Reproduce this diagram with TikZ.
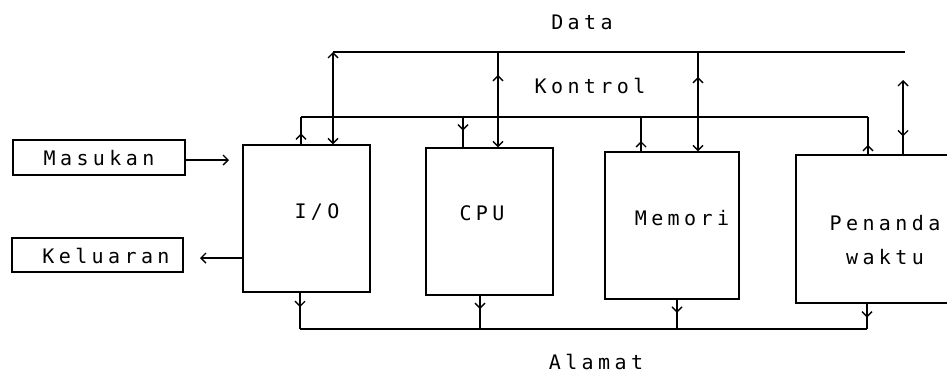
\documentclass[tikz,border=0pt]{standalone}
\usepackage{fontspec}
\setmainfont{DejaVu Sans Mono}[LetterSpace=22]
\usetikzlibrary{arrows.meta,decorations.markings}
\begin{document}
\begin{tikzpicture}[x=1pt,y=-1pt,
  ln/.style={line width=1.4pt},
  boxn/.style={draw, ln, inner sep=0pt},
  lbl/.style={font=\fontsize{20}{24}\selectfont, inner sep=0pt},
  >={Straight Barb[length=5pt,width=10pt]},
  midarrow/.style={postaction={decorate}, decoration={markings, mark=at position #1 with {\arrow{>}}}},
]
\useasboundingbox (0,0) rectangle (947,373);
\clip (0,0) rectangle (947,373);

% boxes
\node[boxn, minimum width=172pt, minimum height=35pt] (mas) at (99,157.5) {};
\node[boxn, minimum width=171pt, minimum height=34pt] (kel) at (97.5,255) {};
\node[boxn, minimum width=127pt, minimum height=147pt] (io) at (306.5,218.5) {};
\node[boxn, minimum width=127pt, minimum height=147pt] (cpu) at (489.5,221.5) {};
\node[boxn, minimum width=134pt, minimum height=147pt] (mem) at (672,225.5) {};
\node[boxn, minimum width=164pt, minimum height=148pt] (pen) at (878,229) {};

% labels
\node[lbl] (tmas) at (99,158) {Masukan};
\node[lbl] (tkel) at (106,256) {Keluaran};
\node[lbl] (tio) at (317,212) {I/O};
\node[lbl] (tcpu) at (482,213) {CPU};
\node[lbl] (tmem) at (682,218) {Memori};
\node[lbl] (tpen1) at (885,223) {Penanda};
\node[lbl] (tpen2) at (885,257) {waktu};
\node[lbl] (tdata) at (582,22) {Data};
\node[lbl] (tkon) at (590,86) {Kontrol};
\node[lbl] (tal) at (596,362) {Alamat};

% bus coordinates
\coordinate (dL) at (333,52);
\coordinate (dR) at (905,52);
\coordinate (dC) at (498,52);
\coordinate (dM) at (698,52);
\coordinate (dP) at (903,80);
\coordinate (kL) at (301,117);
\coordinate (kR) at (868,117);
\coordinate (kC) at (463,117);
\coordinate (kM) at (641,117);
\coordinate (aL) at (300,329);
\coordinate (aR) at (867,329);
\coordinate (aC) at (480,329);
\coordinate (aM) at (677,329);
\coordinate (mA) at (229,160);
\coordinate (kA) at (200,258);

% data bus
\draw[ln] (dL) -- (dR);
\draw[ln, <->] (io.north -| dL) -- (dL);
\draw[ln, <-, midarrow=0.76] (cpu.north -| dC) -- (dC);
\draw[ln, <-, midarrow=0.75] (mem.north -| dM) -- (dM);
\draw[ln, <-, midarrow=0.76] (dP) -- (pen.north -| dP);

% control bus
\draw[ln] (kL) -- (kR);
\draw[ln, midarrow=0.4] (io.north -| kL) -- (kL);
\draw[ln, midarrow=0.45] (kC) -- (cpu.north -| kC);
\draw[ln, midarrow=0.3] (mem.north -| kM) -- (kM);
\draw[ln, midarrow=0.25] (pen.north -| kR) -- (kR);

% address bus
\draw[ln] (aL) -- (aR);
\draw[ln, midarrow=0.4] (io.south -| aL) -- (aL);
\draw[ln, midarrow=0.4] (cpu.south -| aC) -- (aC);
\draw[ln, midarrow=0.45] (mem.south -| aM) -- (aM);
\draw[ln, midarrow=0.55] (pen.south -| aR) -- (aR);

% input / output
\draw[ln, ->] (mas.east |- mA) -- (mA);
\draw[ln, ->] (io.west |- kA) -- (kA);
\end{tikzpicture}
\end{document}
